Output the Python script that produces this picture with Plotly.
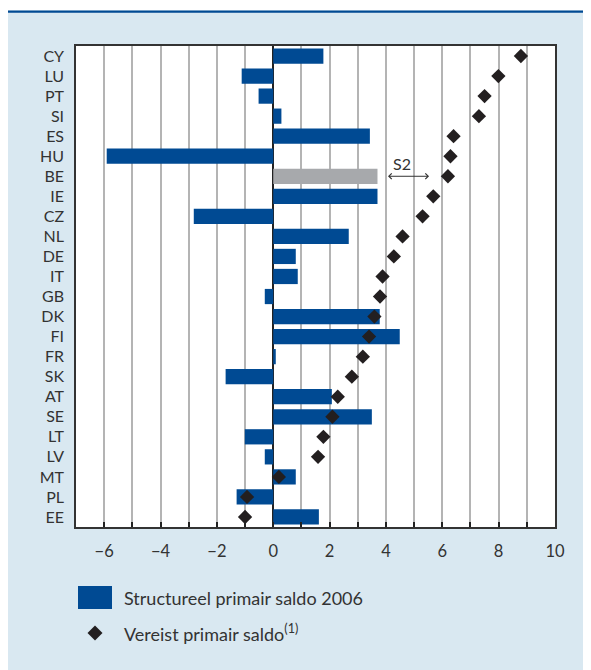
import plotly.graph_objects as go

countries = ["CY", "LU", "PT", "SI", "ES", "HU", "BE", "IE", "CZ", "NL", "DE", "IT",
             "GB", "DK", "FI", "FR", "SK", "AT", "SE", "LT", "LV", "MT", "PL", "EE"]
structureel_2006 = [1.78, -1.12, -0.52, 0.29, 3.43, -5.91, 3.70, 3.70, -2.82, 2.68, 0.80, 0.87,
                    -0.30, 3.78, 4.49, 0.09, -1.69, 2.08, 3.50, -1.01, -0.30, 0.80, -1.30, 1.62]
vereist = [8.79, 7.99, 7.50, 7.30, 6.40, 6.29, 6.20, 5.68, 5.30, 4.59, 4.28, 3.88,
           3.79, 3.59, 3.40, 3.18, 2.79, 2.29, 2.10, 1.78, 1.59, 0.20, -0.93, -1.00]
highlight = "BE"
s2_from, s2_to = 4.02, 5.53

BLUE = "#004a93"
GREY = "#a7a9ac"
DARK = "#231f20"
TEXT = "#333333"
BG = "#d9e8f1"
FONT = "Lato"

bar_colors = [GREY if c == highlight else BLUE for c in countries]

fig = go.Figure()
fig.add_trace(go.Bar(
    y=countries, x=structureel_2006, orientation="h",
    marker=dict(color=bar_colors, line=dict(width=0)),
    name="Structureel primair saldo 2006", showlegend=False,
))
fig.add_trace(go.Scatter(
    y=countries, x=vereist, mode="markers",
    marker=dict(symbol="diamond", size=11, color=DARK, line=dict(width=0)),
    name="Vereist primair saldo", showlegend=False,
))

# S2 arrow and label
fig.add_annotation(x=s2_to, y=highlight, ax=s2_from, ay=highlight, axref="x", ayref="y",
                   xref="x", yref="y", text="", showarrow=True, arrowside="end+start",
                   arrowhead=4, arrowsize=1.1, arrowwidth=1, arrowcolor=TEXT,
                   standoff=0, startstandoff=0)
fig.add_annotation(x=(s2_from + s2_to) / 2 - 0.2, y=highlight, xref="x", yref="y",
                   text="S2", showarrow=False, yshift=13,
                   font=dict(family=FONT, size=16, color=TEXT))

W, H = 591, 670
# figure is drawn with an 8px page offset; helpers below take screen pixels
L, R, T, B = 68, 44, 38, 151
OFF = 8
pw, ph = W - L - R, H - T - B


def px(xs):
    return (xs - OFF - L) / pw


def py(ys):
    return (H - B - (ys - OFF)) / ph


shapes = [
    # thin white band and blue rule at the top
    dict(type="rect", xref="paper", yref="paper", x0=px(0), x1=px(W + 20), y0=py(10.6), y1=py(-5),
         fillcolor="white", line=dict(width=0), layer="below"),
    dict(type="line", xref="paper", yref="paper", x0=px(0), x1=px(W + 20), y0=py(11.6), y1=py(11.6),
         line=dict(color=BLUE, width=2.2)),
    # legend symbols
    dict(type="rect", xref="paper", yref="paper", x0=px(78), x1=px(112), y0=py(609), y1=py(586),
         fillcolor=BLUE, line=dict(width=0)),
    dict(type="path", xref="paper", yref="paper",
         path=f"M {px(87.5)},{py(633)} L {px(95)},{py(625.5)} L {px(102.5)},{py(633)} L {px(95)},{py(640.5)} Z",
         fillcolor=DARK, line=dict(width=0)),
]
fig.update_layout(shapes=shapes)

fig.add_annotation(xref="paper", yref="paper", x=px(122), y=py(598), xanchor="left", yanchor="middle",
                   text="Structureel primair saldo 2006", showarrow=False,
                   font=dict(family=FONT, size=18, color=TEXT))
fig.add_annotation(xref="paper", yref="paper", x=px(122), y=py(633), xanchor="left", yanchor="middle",
                   text="Vereist primair saldo<sup>(1)</sup>", showarrow=False,
                   font=dict(family=FONT, size=18, color=TEXT))

fig.update_layout(
    width=W, height=H,
    margin=dict(l=L, r=R, t=T, b=B, pad=0),
    paper_bgcolor=BG, plot_bgcolor="white",
    bargap=0.24,
    showlegend=False,
    font=dict(family=FONT, size=16, color=TEXT),
    xaxis=dict(
        range=[-7, 10], tick0=0, dtick=2, tickformat="d",
        showgrid=True, gridcolor="#b4b4b4", gridwidth=1.5,
        minor=dict(dtick=1, tick0=0, showgrid=True, gridcolor="#b4b4b4", gridwidth=1.5,
                   ticks="inside", ticklen=5, tickcolor="#222", tickwidth=1.5),
        ticks="inside", ticklen=5, tickcolor="#222", tickwidth=1.5,
        zeroline=True, zerolinecolor="#222", zerolinewidth=1.5,
        showline=True, linecolor="#333", linewidth=1.5, mirror=True,
        ticklabelstandoff=8,
        tickfont=dict(family=FONT, size=16.5, color=TEXT),
    ),
    yaxis=dict(
        categoryorder="array", categoryarray=countries,
        range=[len(countries) - 0.5, -0.5],
        showgrid=False, ticks="", zeroline=False,
        showline=True, linecolor="#333", linewidth=1.5, mirror=True,
        ticklabelstandoff=7,
        tickfont=dict(family=FONT, size=16, color=TEXT),
    ),
)

fig.write_html("out.html")
